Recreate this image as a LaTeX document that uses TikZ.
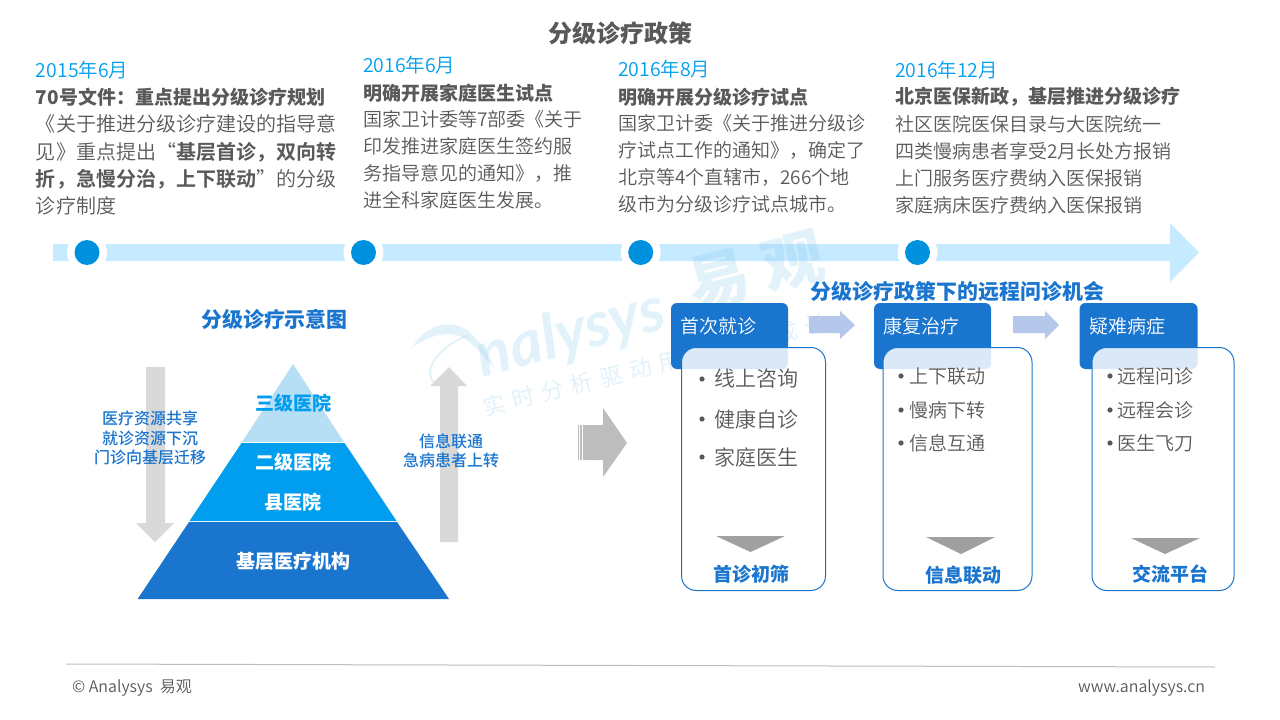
\documentclass[tikz,border=0pt]{standalone}
\usepackage{fontspec}
\setmainfont{Noto Sans CJK SC}
\newfontfamily\lightf{Noto Sans CJK SC DemiLight}
\newfontfamily\medf{Noto Sans CJK SC Medium}
\newfontfamily\wmlatin{Lato}
\newfontfamily\wmcjk{Noto Sans CJK SC}[LetterSpace=33]
\newfontfamily\wmbig{Noto Sans CJK SC}[LetterSpace=25]
\definecolor{blueA}{HTML}{1A75CF}
\definecolor{blueB}{HTML}{019EEF}
\definecolor{blueC}{HTML}{B6DFF6}
\definecolor{barblue}{HTML}{C6EAFF}
\definecolor{dotblue}{HTML}{0091DE}
\definecolor{txtgray}{HTML}{595959}
\definecolor{wmblue}{HTML}{7FC4EA}
\definecolor{arrgray}{HTML}{D9D9D9}
\definecolor{biggray}{HTML}{BDBDBD}
\definecolor{trigray}{HTML}{A0A0A0}
\definecolor{arrblue}{HTML}{A9BEE8}
\tikzset{
  every node/.style={inner sep=0pt,outer sep=0pt},
  datetext/.style={anchor=west,text=blueB,font=\lightf\fontsize{14.6}{18}\selectfont},
  blocktext/.style={anchor=north west,text=txtgray,align=left,font=\lightf\fontsize{14.25}{20.25}\selectfont},
  blockwide/.style={blocktext,font=\lightf\fontsize{15}{20.5}\selectfont},
  headtext/.style={anchor=west,text=txtgray,font=\bfseries\fontsize{14.25}{18}\selectfont},
  subtitle/.style={text=blueA,font=\bfseries\fontsize{15.7}{18}\selectfont},
  sidetext/.style={text=blueA,align=center,font=\medf\fontsize{12}{14.6}\selectfont},
  tiertext/.style={text=white,font=\bfseries\fontsize{14.25}{18}\selectfont},
  halo/.style={fill=white,draw=none},
  dotc/.style={fill=dotblue,draw=none},
  wmark/.style={text=wmblue,text opacity=.22},
  headbox/.style={fill=blueA,rounded corners=4.5pt},
  cardbox/.style={draw=blueA,line width=0.75pt,fill=white,fill opacity=0.84,rounded corners=11pt},
  boxtext/.style={anchor=west,text=white,font=\lightf\fontsize{14.25}{18}\selectfont},
  itemA/.style={anchor=west,text=txtgray,font=\lightf\fontsize{15.75}{18}\selectfont},
  itemB/.style={anchor=west,text=txtgray,font=\lightf\fontsize{14.25}{18}\selectfont},
  bull/.style={fill=txtgray,draw=none},
  tri/.style={fill=trigray,draw=none},
  cardlabel/.style={text=blueA,font=\bfseries\fontsize{14.25}{18}\selectfont},
  gray arrow/.style={fill=arrgray,draw=none},
  blue arrow/.style={fill=arrblue,draw=none,fill opacity=.85},
  foot/.style={text=txtgray,font=\lightf\fontsize{12}{14}\selectfont},
}
\begin{document}
\begin{tikzpicture}[x=0.75pt,y=-0.75pt]
\useasboundingbox (0,0) rectangle (1280,720);
\fill[white] (0,0) rectangle (1280,720);
% title
\node[text=txtgray,font=\bfseries\fontsize{18}{20}\selectfont] (title) at (620,33) {分级诊疗政策};
% texts
\node[datetext] (d1) at (36,70) {2015年6月};
\node[headtext] (h1) at (36,97) {70号文件：重点提出分级诊疗规划};
\node[blockwide] (b1) at (36,115) {《关于推进分级诊疗建设的指导意\\见》重点提出“\textbf{基层首诊，双向转}\\\textbf{折，急慢分治，上下联动}”的分级\\诊疗制度};
\node[datetext] (d2) at (363,65) {2016年6月};
\node[headtext] (h2) at (363,93) {明确开展家庭医生试点};
\node[blocktext] (b2) at (363,110) {国家卫计委等7部委《关于\\印发推进家庭医生签约服\\务指导意见的通知》，推\\进全科家庭医生发展。};
\node[datetext] (d3) at (618,69) {2016年8月};
\node[headtext] (h3) at (618,97) {明确开展分级诊疗试点};
\node[blocktext] (b3) at (618,114) {国家卫计委《关于推进分级诊\\疗试点工作的通知》，确定了\\北京等4个直辖市，266个地\\级市为分级诊疗试点城市。};
\node[datetext] (d4) at (895,70) {2016年12月};
\node[headtext] (h4) at (895,97) {北京医保新政，基层推进分级诊疗};
\node[blocktext] (b4) at (895,115) {社区医院医保目录与大医院统一\\四类慢病患者享受2月长处方报销\\上门服务医疗费纳入医保报销\\家庭病床医疗费纳入医保报销};
% timeline
\fill[barblue] (53,244) -- (1170,244) -- (1170,223) -- (1199,252.5) -- (1170,282) -- (1170,261) -- (53,261) -- cycle;
\foreach \cx in {87,363.5,640.7,917.5}{
  \fill[halo] (\cx,252.5) circle[radius=20];
  \fill[dotc] (\cx,252.5) circle[radius=12.5];
}
% watermark
\fill[wmblue,fill opacity=.22] (412,348) .. controls (425,325) and (450,318) .. (468,331) .. controls (480,341) and (490,355) .. (494,368) .. controls (484,358) and (476,345) .. (464,338) .. controls (450,330) and (428,335) .. (412,348) -- cycle;
\draw[wmblue,draw opacity=.22,line width=1.4pt] (468,336) .. controls (452,340) and (430,358) .. (430,372) .. controls (430,385) and (440,388) .. (450,380);
\node[wmark,font=\wmlatin\bfseries\itshape\fontsize{47}{50}\selectfont,rotate=15] (wm1) at (571,335) {nalysys};
\node[wmark,font=\wmcjk\fontsize{17}{18}\selectfont,rotate=14] (wm2) at (655,365) {实时分析驱动用户资产成长};
\node[wmark,font=\wmbig\bfseries\fontsize{46}{50}\selectfont,rotate=14] (wm3) at (756,271) {易观};
% left section
\node[subtitle] (lt) at (274.5,319) {分级诊疗示意图};
\fill[gray arrow] (146,367) -- (165,367) -- (165,523) -- (174,523) -- (155,542) -- (136,523) -- (146,523) -- cycle;
\fill[gray arrow] (440,542) -- (458,542) -- (458,386) -- (467,386) -- (449,367) -- (430,386) -- (440,386) -- cycle;
\fill[blueC] (293,364) -- (344,442) -- (242,442) -- cycle;
\fill[blueB] (241.5,443) -- (344.5,443) -- (396.5,521) -- (189.5,521) -- cycle;
\fill[blueA] (189,522) -- (397,522) -- (449,599) -- (137.6,599) -- cycle;
\node[tiertext,text=blueB] (t1) at (293,403) {三级医院};
\node[tiertext] (t2) at (293,462) {二级医院};
\node[tiertext] (t3) at (293,502) {县医院};
\node[tiertext] (t4) at (293,561) {基层医疗机构};
\node[sidetext] (sl) at (150,438) {医疗资源共享\\就诊资源下沉\\门诊向基层迁移};
\node[sidetext] (sr) at (451,451) {信息联通\\急病患者上转};
% big arrow
\fill[biggray] (585,425) -- (603,425) -- (603,408) -- (627,443) -- (603,477) -- (603,460) -- (585,460) -- cycle;
\fill[biggray] (577.5,425) rectangle (579,460);
\fill[biggray] (580,425) rectangle (582,460);
\fill[biggray] (583,425) rectangle (585.5,460);
% right section
\node[subtitle] (rt) at (957.5,291) {分级诊疗政策下的远程问诊机会};
\fill[blue arrow] (809,316) -- (840,316) -- (840,311) -- (855,325) -- (840,339) -- (840,333) -- (809,333) -- cycle;
\fill[blue arrow] (1013,316) -- (1045,316) -- (1045,311) -- (1059,325) -- (1045,339) -- (1045,333) -- (1013,333) -- cycle;
% box 1
\fill[headbox] (671,303) rectangle (788,369);
\path[cardbox] (681.5,347.5) rectangle (825.5,590.5);
\node[boxtext] (a0) at (680,326) {首次就诊};
\fill[bull] (702,379) circle[radius=2.6];
\fill[bull] (702,419) circle[radius=2.6];
\fill[bull] (702,457) circle[radius=2.6];
\node[itemA] (a1) at (714,379) {线上咨询};
\node[itemA] (a2) at (714,419) {健康自诊};
\node[itemA] (a3) at (714,457) {家庭医生};
\fill[tri] (716,536) -- (785,536) -- (750.5,552) -- cycle;
\node[cardlabel] (a4) at (751,574.5) {首诊初筛};
% box 2
\fill[headbox] (874,303) rectangle (991,369);
\path[cardbox] (883,347.5) rectangle (1032,590.5);
\node[boxtext] (b0) at (883,326) {康复治疗};
\fill[bull] (901,376) circle[radius=2.6];
\fill[bull] (901,410) circle[radius=2.6];
\fill[bull] (901,443) circle[radius=2.6];
\node[itemB] (b1x) at (909,376) {上下联动};
\node[itemB] (b2x) at (909,410) {慢病下转};
\node[itemB] (b3x) at (909,443) {信息互通};
\fill[tri] (926,537) -- (995,537) -- (961,554) -- cycle;
\node[cardlabel] (b4x) at (963,575) {信息联动};
% box 3
\fill[headbox] (1079.5,303) rectangle (1197.5,369);
\path[cardbox] (1092,347.5) rectangle (1234,590.5);
\node[boxtext] (c0) at (1089,326) {疑难病症};
\fill[bull] (1110,376) circle[radius=2.6];
\fill[bull] (1110,410) circle[radius=2.6];
\fill[bull] (1110,443) circle[radius=2.6];
\node[itemB] (c1) at (1117,376) {远程问诊};
\node[itemB] (c2) at (1117,410) {远程会诊};
\node[itemB] (c3) at (1117,443) {医生飞刀};
\fill[tri] (1131,538) -- (1200,538) -- (1165,554) -- cycle;
\node[cardlabel] (c4) at (1170,574) {交流平台};
% footer
\coordinate (fl) at (66,664);
\coordinate (fr) at (1215,667);
\draw[biggray,line width=0.75pt] (fl) -- (fr);
\node[foot,anchor=west] (fa) at (72,688) {© Analysys\ \ 易观};
\node[foot,anchor=east] (fb) at (1205,688) {www.analysys.cn};
\end{tikzpicture}
\end{document}
